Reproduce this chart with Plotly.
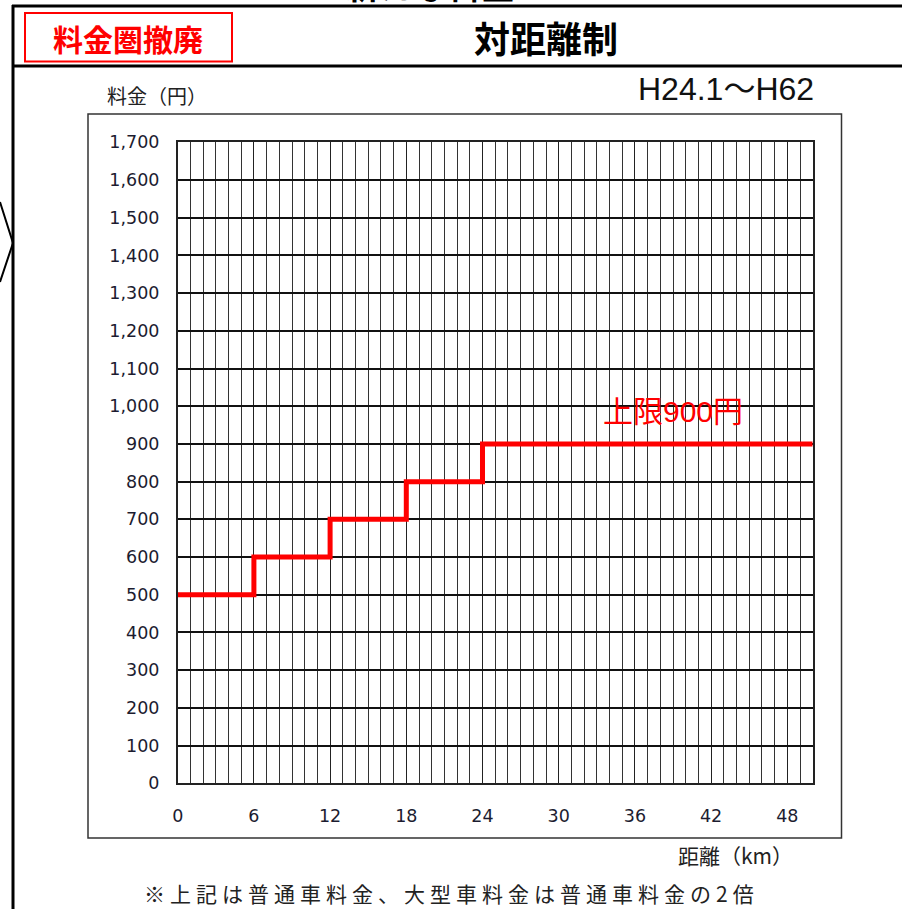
import plotly.graph_objects as go

# ---- data ----
step_km = [0, 6, 12, 18, 24, 50]          # distance breakpoints (km)
fare_yen = [500, 600, 700, 800, 900, 900]  # fare at each breakpoint (円)
x_ticks = [0, 6, 12, 18, 24, 30, 36, 42, 48]
x_max = 50
y_max = 1700

W, H = 902, 909
def px(x):
    return x / W
def py(y):
    return 1 - y / H

fig = go.Figure()
fig.add_trace(go.Scatter(
    x=step_km, y=fare_yen, mode="lines", line_shape="hv",
    line=dict(color="#ff0000", width=5), hoverinfo="skip", showlegend=False,
    cliponaxis=False,
))

tick_font = dict(family="DejaVu Sans", size=17.5, color="#1c1c30")

fig.update_layout(
    width=W, height=H, margin=dict(l=0, r=0, t=0, b=0, autoexpand=False),
    paper_bgcolor="white", plot_bgcolor="white",
    showlegend=False,
    xaxis=dict(
        domain=[px(177.7), px(812.7)], range=[0, x_max],
        tickvals=x_ticks, ticks="", ticklabelstandoff=16,
        showgrid=True, gridcolor="#222", gridwidth=1,
        minor=dict(dtick=1, tick0=0, showgrid=True, gridcolor="#333", gridwidth=1),
        showline=True, linecolor="#222", linewidth=1.5, mirror=True,
        zeroline=False, tickfont=tick_font, fixedrange=True,
    ),
    yaxis=dict(
        domain=[py(783.3), py(142.3)], range=[0, y_max],
        dtick=100, tick0=0, tickformat=",d", ticks="", ticklabelstandoff=13,
        showgrid=True, gridcolor="#111", gridwidth=1.5,
        showline=True, linecolor="#222", linewidth=1.5, mirror=True,
        zeroline=False, tickfont=tick_font, fixedrange=True,
    ),
)

shapes = []
# outer frame (left, top, header divider)
shapes.append(dict(type="line", xref="paper", yref="paper", x0=px(13), x1=px(13), y0=py(5), y1=py(915),
                   line=dict(color="black", width=3)))
shapes.append(dict(type="line", xref="paper", yref="paper", x0=px(12), x1=px(910), y0=py(6), y1=py(6),
                   line=dict(color="black", width=3)))
shapes.append(dict(type="line", xref="paper", yref="paper", x0=px(12), x1=px(910), y0=py(66), y1=py(66),
                   line=dict(color="black", width=3)))
# red box
shapes.append(dict(type="rect", xref="paper", yref="paper", x0=px(25), x1=px(232), y0=py(13), y1=py(61.5),
                   line=dict(color="#ff0000", width=2)))
# inner chart box
shapes.append(dict(type="rect", xref="paper", yref="paper", x0=px(88), x1=px(841.5), y0=py(114), y1=py(838),
                   line=dict(color="#333", width=1.5)))
# left arrow '>'
shapes.append(dict(type="path", xref="paper", yref="paper",
                   path=f"M 0 {py(202)} L {px(13)} {py(243)} L 0 {py(282)}",
                   line=dict(color="black", width=2)))
fig.update_layout(shapes=shapes)

cjk = "Noto Sans CJK JP"
ann = []
# heading above the frame (cut off at the top edge, as in the reference)
ann.append(dict(text="<b>新たな料金</b>", x=px(430), y=py(11), xref="paper", yref="paper",
                xanchor="center", yanchor="bottom", showarrow=False,
                font=dict(family=cjk, size=34, color="black")))
ann.append(dict(text="<b>料金圏撤廃</b>", x=px(128), y=py(38), xref="paper", yref="paper",
                xanchor="center", yanchor="middle", showarrow=False,
                font=dict(family=cjk, size=30, color="#ff0000")))
ann.append(dict(text="<b>対距離制</b>", x=px(546), y=py(37), xref="paper", yref="paper",
                xanchor="center", yanchor="middle", showarrow=False,
                font=dict(family=cjk, size=36, color="black")))
ann.append(dict(text="H24.1～H62", x=px(726), y=py(89), xref="paper", yref="paper",
                xanchor="center", yanchor="middle", showarrow=False,
                font=dict(family="Liberation Sans, Noto Sans CJK JP", size=32, color="#111")))
ann.append(dict(text="料金（円）", x=px(157), y=py(96), xref="paper", yref="paper",
                xanchor="center", yanchor="middle", showarrow=False,
                font=dict(family=cjk, size=20, color="#222")))
ann.append(dict(text="距離（km）", x=px(735), y=py(855), xref="paper", yref="paper",
                xanchor="center", yanchor="middle", showarrow=False,
                font=dict(family=cjk, size=21, color="#222")))
ann.append(dict(text='<span style="letter-spacing:5px">※上記は普通車料金、大型車料金は普通車料金の2倍</span>',
                x=px(451), y=py(893), xref="paper", yref="paper",
                xanchor="center", yanchor="middle", showarrow=False,
                font=dict(family=cjk, size=21, color="#222")))
ann.append(dict(text="上限900円", x=39.0, y=986, xref="x", yref="y",
                xanchor="center", yanchor="middle", showarrow=False,
                font=dict(family="Liberation Sans, Noto Sans CJK JP", size=30, color="#ff0000")))
fig.update_layout(annotations=ann)

fig.write_html("out.html")
